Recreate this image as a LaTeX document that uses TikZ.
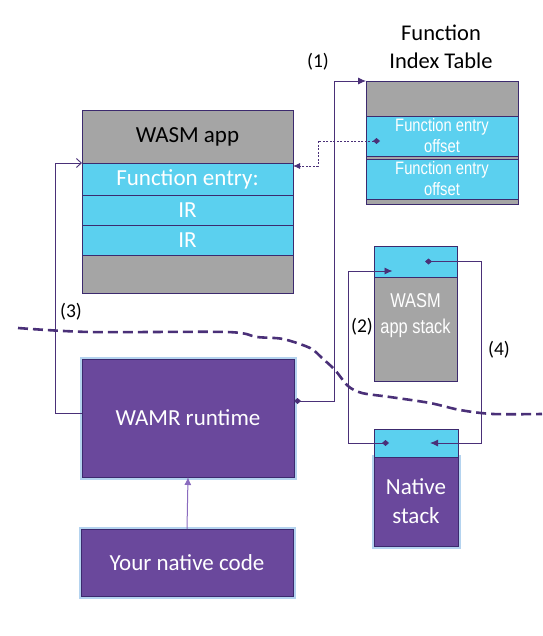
\documentclass[tikz,border=0pt]{standalone}
\usepackage{fontspec}
\setmainfont{Carlito}
\newfontfamily\narrowfont[FakeStretch=0.82]{Liberation Sans}
\usetikzlibrary{arrows.meta,calc}
\definecolor{purp}{HTML}{6A489C}
\definecolor{edge}{HTML}{3C2A6E}
\definecolor{cyanbox}{HTML}{5BD0EF}
\definecolor{graybox}{HTML}{A5A5A5}
\definecolor{linecol}{HTML}{4A3078}
\definecolor{glow}{HTML}{B4D3EF}
\definecolor{lightarrow}{HTML}{8A6BBE}
\tikzset{
  dtip/.tip={Diamond[length=7pt,width=6pt]},
  ltip/.tip={Latex[length=8pt,width=7pt]}
}
\begin{document}
\begin{tikzpicture}[x=1pt,y=-1pt,
  cell/.style={draw=edge, line width=0.9pt, anchor=north west, inner sep=0pt, outer sep=0pt},
  graycell/.style={cell, fill=graybox},
  cyancell/.style={cell, fill=cyanbox, text=white},
  purplecell/.style={cell, fill=purp, text=white, preaction={draw=glow, line width=5pt}},
  bigtext/.style={font=\fontsize{23}{28}\selectfont},
  narrowtext/.style={font=\narrowfont\fontsize{18}{21}\selectfont, align=center},
  steplabel/.style={font=\fontsize{19.5}{22}\selectfont},
  conn/.style={draw=linecol, line width=0.9pt}
]
\useasboundingbox (0,0) rectangle (542,636);

% dashed boundary
\draw[linecol, line width=2.6pt, dash pattern=on 10pt off 5pt]
  plot[smooth, tension=0.5] coordinates {(18,328) (90,332) (227,332) (257,337) (283,339) (310,348) (322,358) (335,370) (348,386) (362,393) (390,397) (430,403) (460,410) (493,414) (542,414)};

% WASM app
\node[graycell, minimum width=211pt, minimum height=53pt, bigtext] (appTop) at (82,110) {WASM app};
\node[cyancell, minimum width=211pt, minimum height=32pt, bigtext] (appFE) at (82,163) {Function entry:};
\node[cyancell, minimum width=211pt, minimum height=30pt, bigtext] (appIR1) at (82,195) {IR};
\node[cyancell, minimum width=211pt, minimum height=30pt, bigtext] (appIR2) at (82,225) {IR};
\node[graycell, minimum width=211pt, minimum height=38pt] (appBot) at (82,255) {};

% Function index table
\node[align=center, font=\fontsize{22.5}{28}\selectfont] (fitTitle) at (441,47) {Function\\Index Table};
\node[graycell, minimum width=152pt, minimum height=35pt] (fitTop) at (366,81) {};
\node[cyancell, minimum width=152pt, minimum height=40pt, narrowtext] (fit1) at (366,116) {Function entry\\offset};
\node[graycell, minimum width=152pt, minimum height=3pt] (fitGap) at (366,156) {};
\node[cyancell, minimum width=152pt, minimum height=40pt, narrowtext] (fit2) at (366,159) {Function entry\\offset};
\node[graycell, minimum width=152pt, minimum height=5pt] (fitBot) at (366,199) {};

% WASM app stack
\node[cyancell, minimum width=83pt, minimum height=31pt] (wsTop) at (374,246) {};
\node[graycell, minimum width=83pt, minimum height=104pt] (wsBody) at (374,277) {};
\node[text=white, font=\narrowfont\fontsize{20}{26}\selectfont, align=center] (wsLabel) at (415.5,316) {WASM\\app stack};

% Native stack
\node[purplecell, minimum width=84pt, minimum height=89pt, align=center, font=\fontsize{23}{29}\selectfont] (nsBody) at (374,457) {Native\\stack};
\node[cyancell, minimum width=84pt, minimum height=28pt] (nsTop) at (374,429) {};

% WAMR runtime and native code
\node[purplecell, minimum width=212pt, minimum height=118pt, bigtext] (wamr) at (82,359) {WAMR runtime};
\node[purplecell, minimum width=212pt, minimum height=67pt, bigtext] (native) at (81,529) {Your native code};

% connectors
\draw[conn, {dtip}-{ltip}] ([yshift=17pt]wamr.east) -- ++(40,0) |- (fitTop.north west);
\draw[conn, dash pattern=on 2pt off 1.5pt, {dtip}-{Latex[length=7pt,width=6pt]}]
  ([xshift=-62pt,yshift=-5pt]fit1.center) -- ++(-62,0) |- ([yshift=-3pt]appFE.north east);
\draw[conn, {dtip}-{ltip}] ([xshift=-27pt]nsTop.center) -- ++(-41,0) |- ([xshift=-23pt,yshift=-9.5pt]wsTop.center);
\draw[conn, {dtip}-{ltip}] ([xshift=9.5pt]wsTop.center) -- ++(56,0) |- ([xshift=14pt]nsTop.center);
\draw[conn, -{Straight Barb[length=5pt,width=9pt]}] ([yshift=5pt]wamr.west) -- ++(-27,0) |- (appFE.north west);
\draw[draw=lightarrow, line width=1pt, -{ltip}] (native.north) -- (wamr.south);

% step labels
\node[steplabel] (l1) at (318,62) {(1)};
\node[steplabel] (l2) at (362,327) {(2)};
\node[steplabel] (l3) at (71,312) {(3)};
\node[steplabel] (l4) at (499,350) {(4)};
\end{tikzpicture}
\end{document}
